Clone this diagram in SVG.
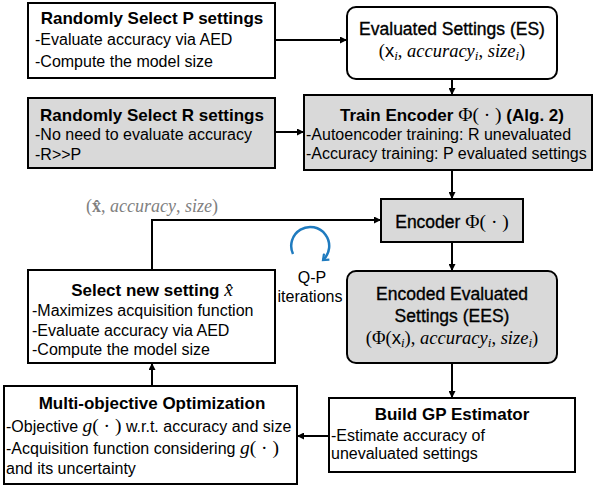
<svg xmlns="http://www.w3.org/2000/svg" width="595" height="487" viewBox="0 0 595 487">
  <defs>
    <marker id="arrow" viewBox="0 0 10 10" refX="10" refY="5" markerWidth="7" markerHeight="7" markerUnits="userSpaceOnUse" orient="auto">
      <path d="M0,0 L10,5 L0,10 Z" fill="#000"/>
    </marker>
    <marker id="loopHead" viewBox="0 0 10 10" refX="6" refY="5" markerWidth="10" markerHeight="10" markerUnits="userSpaceOnUse" orient="auto">
      <path d="M1,1 L6,5 L1,9" fill="none" stroke="#1f7bbf" stroke-width="2.2"/>
    </marker>
  </defs>
  <style>
    .box { fill: #fff; stroke: #000; stroke-width: 2; }
    .gray { fill: #d9d9d9; }
    .title { font-family: "Liberation Sans", Arial, sans-serif; font-weight: bold; font-size: 17px; fill: #000; text-anchor: middle; }
    .medium { font-family: "Liberation Sans", Arial, sans-serif; font-size: 17.5px; fill: #000; stroke: #000; stroke-width: 0.35; text-anchor: middle; }
    .body { font-family: "Liberation Sans", Arial, sans-serif; font-size: 16px; fill: #000; }
    .math { font-family: "Liberation Serif", "Times New Roman", serif; font-weight: normal; font-size: 19.5px; stroke-width: 0; }
    .it { font-style: italic; }
    .formula { font-family: "Liberation Serif", "Times New Roman", serif; font-size: 18.5px; fill: #000; text-anchor: middle; }
    .sub { font-style: italic; font-size: 13px; }
    .sans { font-family: "Liberation Sans", Arial, sans-serif; }
    .conn { fill: none; stroke: #000; stroke-width: 2; marker-end: url(#arrow); }
  </style>

  <!-- connectors -->
  <g id="connectors">
    <line class="conn" x1="275" y1="40" x2="347" y2="40"/>
    <line class="conn" x1="452" y1="79" x2="452" y2="95"/>
    <line class="conn" x1="275" y1="132" x2="304" y2="132"/>
    <line class="conn" x1="452" y1="170" x2="452" y2="199"/>
    <polyline class="conn" points="152,270 152,220 381,220"/>
    <line class="conn" x1="452" y1="242" x2="452" y2="271"/>
    <line class="conn" x1="452" y1="363" x2="452" y2="398"/>
    <line class="conn" x1="329" y1="436" x2="297" y2="436"/>
    <line class="conn" x1="152" y1="386" x2="152" y2="363"/>
    <text x="152" y="212" font-family="Liberation Serif, Times New Roman, serif" font-size="18px" fill="#808080" text-anchor="middle">(<tspan font-weight="bold">x̂</tspan>, <tspan font-style="italic">accuracy</tspan>, <tspan font-style="italic">size</tspan>)</text>
  </g>

  <!-- iteration loop -->
  <g id="loop">
    <path d="M293,254 A19,19 0 1 1 323,260" fill="none" stroke="#1f7bbf" stroke-width="2.5" marker-end="url(#loopHead)"/>
    <text x="312" y="283" class="body" font-size="15.5" text-anchor="middle">Q-P</text>
    <text x="310" y="302" class="body" font-size="15.5" text-anchor="middle">iterations</text>
  </g>

  <g id="select-p">
    <rect class="box" x="28" y="3" width="247" height="75"/>
    <text class="title" x="152" y="24">Randomly Select P settings</text>
    <text class="body" x="35" y="45">-Evaluate accuracy via AED</text>
    <text class="body" x="35" y="66.5">-Compute the model size</text>
  </g>

  <g id="evaluated-settings">
    <rect class="box" x="347" y="7" width="210" height="72" rx="9"/>
    <text class="medium" x="452" y="35">Evaluated Settings (ES)</text>
    <text class="formula" x="452" y="57">(<tspan class="sans">x</tspan><tspan class="sub" dy="3">i</tspan><tspan dy="-3">, </tspan><tspan class="it">accuracy</tspan><tspan class="sub" dy="3">i</tspan><tspan dy="-3">, </tspan><tspan class="it">size</tspan><tspan class="sub" dy="3">i</tspan><tspan dy="-3">)</tspan></text>
  </g>

  <g id="select-r">
    <rect class="box gray" x="28" y="98" width="247" height="70"/>
    <text class="title" x="152" y="120.5">Randomly Select R settings</text>
    <text class="body" x="35" y="140">-No need to evaluate accuracy</text>
    <text class="body" x="35" y="160">-R&gt;&gt;P</text>
  </g>

  <g id="train-encoder">
    <rect class="box gray" x="304" y="95" width="288" height="75"/>
    <text class="title" x="452" y="121">Train Encoder <tspan class="math">Φ( · )</tspan> (Alg. 2)</text>
    <text class="body" x="306" y="140">-Autoencoder training: R unevaluated</text>
    <text class="body" x="306" y="159">-Accuracy training: P evaluated settings</text>
  </g>

  <g id="encoder">
    <rect class="box gray" x="381" y="199" width="142" height="43"/>
    <text class="medium" x="452" y="228" font-size="18">Encoder <tspan class="math" font-size="20.5">Φ( · )</tspan></text>
  </g>

  <g id="select-new">
    <rect class="box" x="28" y="270" width="247" height="93"/>
    <text class="title" x="152" y="296">Select new setting <tspan class="math it" font-size="21">x̂</tspan></text>
    <text class="body" x="32" y="316">-Maximizes acquisition function</text>
    <text class="body" x="32" y="336">-Evaluate accuracy via AED</text>
    <text class="body" x="32" y="355">-Compute the model size</text>
  </g>

  <g id="encoded-settings">
    <rect class="box gray" x="347" y="271" width="210" height="92" rx="9"/>
    <text class="medium" x="452" y="300" font-size="18">Encoded Evaluated</text>
    <text class="medium" x="452" y="322" font-size="18">Settings (EES)</text>
    <text class="formula" x="452" y="344">(Φ(<tspan class="sans">x</tspan><tspan class="sub" dy="3">i</tspan><tspan dy="-3">), </tspan><tspan class="it">accuracy</tspan><tspan class="sub" dy="3">i</tspan><tspan dy="-3">, </tspan><tspan class="it">size</tspan><tspan class="sub" dy="3">i</tspan><tspan dy="-3">)</tspan></text>
  </g>

  <g id="multi-objective">
    <rect class="box" x="4" y="386" width="293" height="98"/>
    <text class="title" x="152" y="409">Multi-objective Optimization</text>
    <text class="body" x="6" y="432">-Objective <tspan class="math it" font-size="18">g</tspan><tspan class="math" font-size="18">( · )</tspan> w.r.t. accuracy and size</text>
    <text class="body" x="6" y="454">-Acquisition function considering <tspan class="math it" font-size="18">g</tspan><tspan class="math" font-size="18">( · )</tspan></text>
    <text class="body" x="6" y="474">and its uncertainty</text>
  </g>

  <g id="gp-estimator">
    <rect class="box" x="329" y="398" width="246" height="74"/>
    <text class="title" x="452" y="420">Build GP Estimator</text>
    <text class="body" x="331" y="441">-Estimate accuracy of</text>
    <text class="body" x="331" y="459">unevaluated settings</text>
  </g>
</svg>
